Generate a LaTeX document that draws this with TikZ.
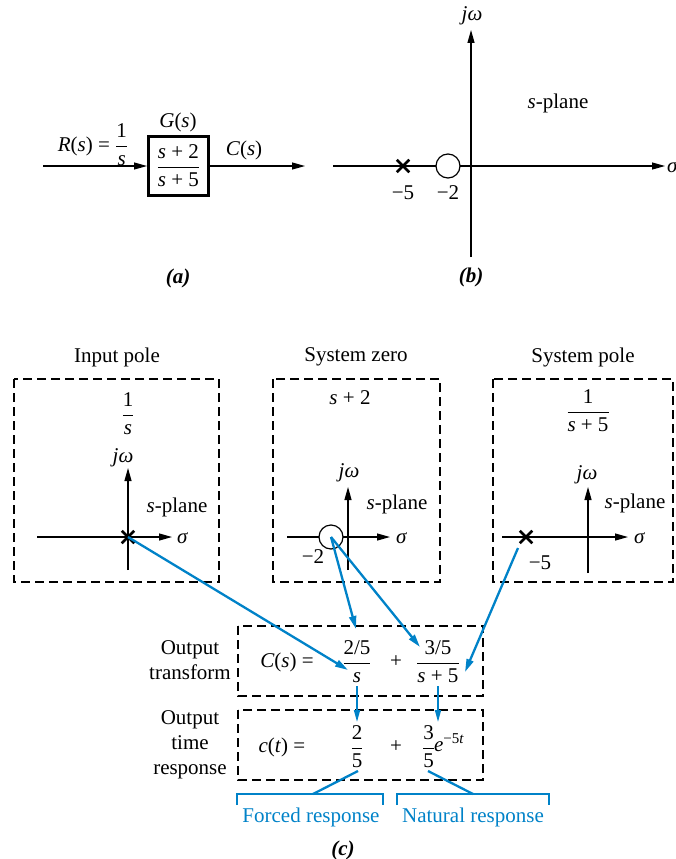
\documentclass[tikz,border=0pt]{standalone}
\usepackage{fontspec}
\setmainfont{Liberation Serif}
\usepackage{amsmath}
\usetikzlibrary{arrows.meta,shapes.misc}
\definecolor{cblue}{RGB}{0,130,200}
\newcommand{\iv}[1]{\textit{#1}}
\newcommand{\fr}[2]{$\displaystyle\frac{\mbox{#1}}{\mbox{#2}}$}
\begin{document}
\begin{tikzpicture}[x=1pt,y=-1pt,
  lbl/.style={font=\fontsize{21}{25}\selectfont, inner sep=0pt},
  axarrow/.style={line width=1.2pt, -{Triangle[length=13pt,width=7pt]}},
  axline/.style={line width=1.2pt},
  dbox/.style={draw, dash pattern=on 9pt off 5pt, line width=1.8pt},
  barrow/.style={cblue, line width=2.3pt, -{Triangle[length=13pt,width=7pt]}},
  sarrow/.style={cblue, line width=1.6pt, -{Triangle[length=12pt,width=6pt]}},
  bline/.style={cblue, line width=2.3pt},
  polex/.style={cross out, draw, minimum size=10pt, inner sep=0pt, line width=2.5pt},
  zeroo/.style={circle, draw, fill=white, minimum size=24pt, inner sep=0pt, line width=1.2pt}
]
\useasboundingbox (0,0) rectangle (676,859);

% ---------- (a) ----------
\coordinate (ain) at (43,166);
\coordinate (aout) at (305,166);
\node[draw, line width=3pt, minimum width=60pt, minimum height=59pt, inner sep=0pt, lbl] (G) at (178.5,166) {\fr{\iv{s} + 2}{\iv{s} + 5}};
\draw[axarrow] (ain) -- (G.west);
\draw[axarrow] (G.east) -- (aout);
\node[lbl] (Gl) at (178,122) {\iv{G}(\iv{s})};
\node[lbl] (Rl) at (93,145) {$\mbox{\iv{R}(\iv{s}) = }\displaystyle\frac{\mbox{1}}{\mbox{\iv{s}}}$};
\node[lbl] (Cl) at (244,150) {\iv{C}(\iv{s})};
\node[lbl] (la) at (178,278) {\textbf{\textit{(a)}}};

% ---------- (b) ----------
\coordinate (bvb) at (471,257);
\coordinate (bvt) at (471,30);
\coordinate (bhl) at (333,166);
\coordinate (bhr) at (665,166);
\draw[axarrow] (bvb) -- (bvt);
\draw[axarrow] (bhl) -- (bhr);
\node[polex] (bp) at (403,166) {};
\node[zeroo] (bz) at (448,166) {};
\node[lbl] (bm5) at (403,193) {−5};
\node[lbl] (bm2) at (448,193) {−2};
\node[lbl] (bjw) at (472,16) {\iv{jω}};
\node[lbl, anchor=west] (bsig) at (667,167) {\iv{σ}};
\node[lbl] (bsp) at (558,103) {\iv{s}-plane};
\node[lbl] (lb) at (471,277) {\textbf{\textit{(b)}}};

% ---------- (c) boxes ----------
\draw[dbox] (14,379) rectangle (219,582);
\draw[dbox] (273,379) rectangle (440,582);
\draw[dbox] (493,379) rectangle (673,582);

\node[lbl] (t1) at (117,357) {Input pole};
\node[lbl] (t2) at (356,357) {System zero};
\node[lbl] (t3) at (583,357) {System pole};

\node[lbl] (e1) at (128,414) {\fr{1}{\iv{s}}};
\node[lbl] (e2) at (350,398) {\iv{s} + 2};
\node[lbl] (e3) at (588,411) {\fr{1}{\iv{s} + 5}};

% box 1 axes
\coordinate (v1b) at (128,570); \coordinate (v1t) at (128,468);
\coordinate (h1l) at (37,537);  \coordinate (h1r) at (172,537);
\draw[axarrow] (v1b) -- (v1t);
\draw[axarrow] (h1l) -- (h1r);
\node[lbl, anchor=west] (s1) at (177,538) {\iv{σ}};
\node[lbl] (j1) at (123,458) {\iv{jω}};
\node[lbl] (sp1) at (177,507) {\iv{s}-plane};
\node[polex] (p1) at (128,537) {};

% box 2 axes
\coordinate (v2b) at (348,570); \coordinate (v2t) at (348,487);
\coordinate (h2l) at (287,537); \coordinate (h2r) at (390,537);
\draw[axarrow] (v2b) -- (v2t);
\draw[axarrow] (h2l) -- (h2r);
\node[lbl, anchor=west] (s2) at (396,538) {\iv{σ}};
\node[lbl] (j2) at (349,473) {\iv{jω}};
\node[lbl] (sp2) at (397,504) {\iv{s}-plane};
\node[zeroo] (z2) at (331,537) {};
\node[lbl] (m2) at (313,557) {−2};

% box 3 axes
\coordinate (v3b) at (588,573); \coordinate (v3t) at (588,487);
\coordinate (h3l) at (502,537); \coordinate (h3r) at (628,537);
\draw[axarrow] (v3b) -- (v3t);
\draw[axarrow] (h3l) -- (h3r);
\node[lbl, anchor=west] (s3) at (634,538) {\iv{σ}};
\node[lbl] (j3) at (587,475) {\iv{jω}};
\node[lbl] (sp3) at (635,503) {\iv{s}-plane};
\node[polex] (p3) at (526,537) {};
\node[lbl] (m5) at (540,563) {−5};

% ---------- output boxes ----------
\draw[dbox] (238,626) rectangle (483,696);
\draw[dbox] (238,710) rectangle (483,780);

\node[lbl, align=center] (ot) at (190,660) {Output\\transform};
\node[lbl, align=center] (otr) at (190,745) {Output\\time\\response};

\node[lbl] (cs) at (287,662) {\iv{C}(\iv{s}) =};
\node[lbl] (f1) at (357,662) {\fr{2/5}{\iv{s}}};
\node[lbl] (pl1) at (396,662) {+};
\node[lbl] (f2) at (438,662) {\fr{3/5}{\iv{s} + 5}};

\node[lbl] (ct) at (282,747) {\iv{c}(\iv{t}) =};
\node[lbl] (f3) at (357,747) {\fr{2}{5}};
\node[lbl] (pl2) at (396,747) {+};
\node[lbl, anchor=west] (f4) at (422,747) {\fr{3}{5}\kern-1pt\raisebox{0.2ex}{\iv{e}}\raisebox{1.1ex}{\fontsize{15}{15}\selectfont −5\iv{t}}};

% ---------- blue connectors ----------
\coordinate (a1e) at (348,670);
\coordinate (a2e) at (356,629);
\coordinate (a3e) at (420,647);
\coordinate (a4s) at (518,548);
\coordinate (a4e) at (465,672);
\draw[barrow] (p1.center) -- (a1e);
\draw[barrow] (z2.center) -- (a2e);
\draw[barrow] (z2.center) -- (a3e);
\draw[barrow] (a4s) -- (a4e);

\coordinate (a5s) at (357,686); \coordinate (a5e) at (357,722);
\coordinate (a6s) at (438,686); \coordinate (a6e) at (438,722);
\draw[sarrow] (a5s) -- (a5e);
\draw[sarrow] (a6s) -- (a6e);

% brackets
\coordinate (b1s) at (358,771); \coordinate (b1e) at (313,794);
\coordinate (b2s) at (428,771); \coordinate (b2e) at (473,794);
\draw[bline] (b1s) -- (b1e);
\draw[bline] (b2s) -- (b2e);
\draw[bline] (237,805) -- (237,794) -- (383,794) -- (383,805);
\draw[bline] (397,805) -- (397,794) -- (549,794) -- (549,805);
\node[lbl, text=cblue] (fr) at (311,817) {Forced response};
\node[lbl, text=cblue] (nr) at (473,817) {Natural response};
\node[lbl] (lc) at (343,850) {\textbf{\textit{(c)}}};
\end{tikzpicture}
\end{document}
